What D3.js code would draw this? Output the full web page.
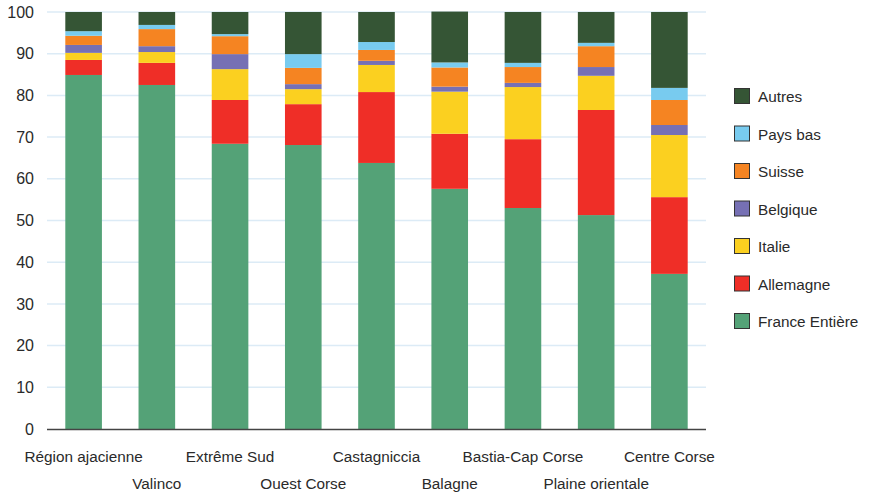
<!DOCTYPE html>
<html><head><meta charset="utf-8">
<script src="https://cdn.jsdelivr.net/npm/d3@7"></script>
<style>body{margin:0;background:#fff}svg{display:block;font-family:"Liberation Sans",Arial,sans-serif}</style>
</head><body><svg id="c" width="875" height="493"></svg>
<script>
const categories = ["Région ajacienne","Valinco","Extrême Sud","Ouest Corse","Castagniccia","Balagne","Bastia-Cap Corse","Plaine orientale","Centre Corse"];
const seriesNames = ["France Entière","Allemagne","Italie","Belgique","Suisse","Pays bas","Autres"];
const colors = ["#54a277","#ef2e27","#fbd020","#7670b4","#f58422","#78cbef","#355535"];
const franceEntiere = [84.9, 82.5, 68.4, 68.1, 63.8, 57.6, 53.0, 51.3, 37.2];
const allemagne     = [3.6, 5.3, 10.5, 9.8, 17.0, 13.2, 16.5, 25.2, 18.4];
const italie        = [1.7, 2.6, 7.4, 3.6, 6.5, 10.1, 12.5, 8.2, 14.9];
const belgique      = [1.9, 1.4, 3.6, 1.2, 1.0, 1.2, 1.0, 2.1, 2.4];
const suisse        = [2.2, 4.1, 4.3, 3.9, 2.6, 4.6, 3.8, 5.0, 6.0];
const paysBas       = [1.1, 1.0, 0.5, 3.3, 1.9, 1.2, 1.0, 0.8, 2.9];
const autres        = [4.6, 3.1, 5.3, 10.1, 7.2, 12.2, 12.2, 7.4, 18.2];
const yTicks = [0,10,20,30,40,50,60,70,80,90,100];

const seriesVals = [franceEntiere, allemagne, italie, belgique, suisse, paysBas, autres];
const rows = categories.map((c,i)=>{const r={cat:c}; seriesNames.forEach((s,j)=>r[s]=seriesVals[j][i]); return r;});
const stack = d3.stack().keys(seriesNames)(rows);

const svg = d3.select("#c");
const mLeft=47, mRight=706, mTop=12, mBottom=429;
const FS = 15.3, TXT = "#2a2a2a";
const x = d3.scaleBand().domain(categories).range([mLeft,mRight]).paddingInner(0.5).paddingOuter(0.25);
const y = d3.scaleLinear().domain([0,100]).range([mBottom,mTop]);

// grid
svg.append("g").selectAll("line").data(yTicks.filter(t=>t>0)).join("line")
  .attr("x1",mLeft).attr("x2",mRight).attr("y1",d=>y(d)).attr("y2",d=>y(d))
  .attr("stroke","#dcebf6").attr("stroke-width",1.5);

// bars
svg.append("g").selectAll("g").data(stack).join("g").attr("fill",(d,i)=>colors[i])
  .selectAll("rect").data(d=>d).join("rect")
  .attr("x",d=>x(d.data.cat)).attr("width",x.bandwidth())
  .attr("y",d=>y(d[1])).attr("height",d=>y(d[0])-y(d[1]));

// axis line
svg.append("line").attr("x1",mLeft).attr("x2",mRight).attr("y1",mBottom+0.5).attr("y2",mBottom+0.5)
  .attr("stroke","#444").attr("stroke-width",1.3);

// y labels
const yAxis = d3.axisLeft(y).tickValues(yTicks).tickSize(0).tickPadding(13);
const ya = svg.append("g").attr("transform",`translate(${mLeft},0)`).call(yAxis);
ya.select(".domain").remove();
ya.selectAll("text").attr("font-size",FS+0.7).attr("fill",TXT).attr("font-family","Liberation Sans, Arial, sans-serif");

// x labels staggered
svg.append("g").selectAll("text").data(categories).join("text")
  .attr("x",d=>x(d)+x.bandwidth()/2).attr("y",(d,i)=>i%2===0?462:489)
  .attr("text-anchor","middle").attr("font-size",FS).attr("fill",TXT).text(d=>d);

// legend
const legOrder = seriesNames.map((s,i)=>({s,c:colors[i]})).reverse();
const lg = svg.append("g").selectAll("g").data(legOrder).join("g")
  .attr("transform",(d,i)=>`translate(734,${88+i*37.5})`);
lg.append("rect").attr("x",0.5).attr("y",0.5).attr("width",15).attr("height",15)
  .attr("fill",d=>d.c).attr("stroke","#333").attr("stroke-width",1);
lg.append("text").attr("x",24).attr("y",14).attr("font-size",FS).attr("fill",TXT).text(d=>d.s);
</script></body></html>
